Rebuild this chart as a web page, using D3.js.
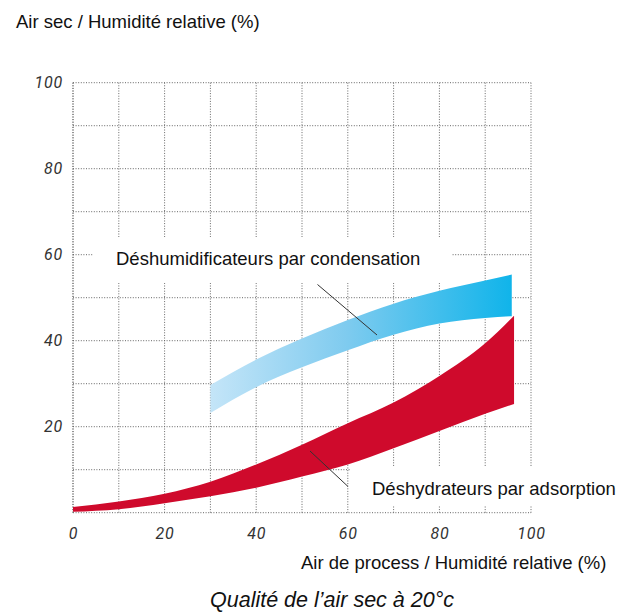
<!DOCTYPE html>
<html>
<head>
<meta charset="utf-8">
<script src="https://cdn.jsdelivr.net/npm/d3@7"></script>
<style>
  html, body { margin: 0; padding: 0; background: #fff; }
  svg { display: block; }
</style>
</head>
<body>
<svg id="chart" width="629" height="612"></svg>
<script>
// ---- data ----
const xTicks = [0, 20, 40, 60, 80, 100];
const yTicks = [20, 40, 60, 80, 100];
const gridValues = [0, 10, 20, 30, 40, 50, 60, 70, 80, 90, 100];

const condX     = [30,   40,   50,   60,   70,   80,   90,   95.8];
const condUpper = [29.7, 35.6, 40.5, 44.8, 48.6, 51.6, 54.0, 55.4];
const condLower = [23.2, 29.2, 33.8, 37.8, 41.4, 44.0, 45.3, 45.7];

const adsX     = [0,   10,  20,  30,  40,   50,   60,   70,   80,   90,   96.3];
const adsUpper = [1.3, 2.6, 4.4, 7.2, 11.2, 15.8, 20.8, 25.6, 31.8, 39.4, 45.8];
const adsLower = [0.2, 0.8, 2.2, 3.8, 5.8,  8.4,  11.2, 15.0, 19.0, 23.0, 25.3];

const yTitle = "Air sec / Humidité relative (%)";
const xTitle = "Air de process / Humidité relative (%)";
const chartTitle = "Qualité de l’air sec à 20°c";
const condLabel = "Déshumidificateurs par condensation";
const adsLabel = "Déshydrateurs par adsorption";

// ---- layout ----
const svg = d3.select("#chart");
const x = d3.scaleLinear().domain([0, 100]).range([73, 531]);
const y = d3.scaleLinear().domain([0, 100]).range([512.7, 82.7]);
const textFont = "'Liberation Sans', Arial, sans-serif";
const tickFont = "Roboto, 'DejaVu Sans', sans-serif";
const gridColor = "#666";
const gridDash = "1,1.6";

// gradient
const defs = svg.append("defs");
const grad = defs.append("linearGradient").attr("id", "blueGrad")
  .attr("gradientUnits", "userSpaceOnUse")
  .attr("x1", x(30)).attr("x2", x(95.8)).attr("y1", 0).attr("y2", 0);
grad.append("stop").attr("offset", "0%").attr("stop-color", "#c4e5f8");
grad.append("stop").attr("offset", "45%").attr("stop-color", "#7fcbef");
grad.append("stop").attr("offset", "100%").attr("stop-color", "#10b4ea");

// grid
const grid = svg.append("g").attr("stroke", gridColor).attr("stroke-width", 1)
  .attr("stroke-dasharray", gridDash).attr("fill", "none");
grid.selectAll("line.v").data(gridValues).join("line").attr("class", "v")
  .attr("x1", d => x(d)).attr("x2", d => x(d)).attr("y1", y(0)).attr("y2", y(100));
grid.selectAll("line.h").data(gridValues).join("line").attr("class", "h")
  .attr("x1", x(0)).attr("x2", x(100)).attr("y1", d => y(d)).attr("y2", d => y(d));

// white label backgrounds (break the grid)
svg.append("rect").attr("x", 93).attr("y", 237).attr("width", 359).attr("height", 46).attr("fill", "#fff");
svg.append("rect").attr("x", 350).attr("y", 466).attr("width", 279).attr("height", 40).attr("fill", "#fff");
// keep left border continuous
svg.append("line").attr("x1", x(0)).attr("x2", x(0)).attr("y1", y(0)).attr("y2", y(100))
  .attr("stroke", gridColor).attr("stroke-dasharray", gridDash);

// bands
const condData = condX.map((d, i) => ({x: d, lo: condLower[i], hi: condUpper[i]}));
const adsData = adsX.map((d, i) => ({x: d, lo: adsLower[i], hi: adsUpper[i]}));
const area = d3.area().x(d => x(d.x)).y0(d => y(d.lo)).y1(d => y(d.hi)).curve(d3.curveMonotoneX);

svg.append("path").datum(condData).attr("d", area).attr("fill", "url(#blueGrad)");
svg.append("path").datum(adsData).attr("d", area).attr("fill", "#cf0a2c");

// leader lines
svg.append("line").attr("x1", 317.5).attr("y1", 284.5).attr("x2", 377).attr("y2", 335)
  .attr("stroke", "#333").attr("stroke-width", 1);
svg.append("line").attr("x1", 310).attr("y1", 451).attr("x2", 348).attr("y2", 486.5)
  .attr("stroke", "#333").attr("stroke-width", 1);

// axes tick labels
const yAxis = d3.axisLeft(y).tickValues(yTicks).tickSize(0).tickPadding(10);
const xAxis = d3.axisBottom(x).tickValues(xTicks).tickSize(0).tickPadding(15);
const gy = svg.append("g").attr("transform", `translate(${x(0)},0)`).call(yAxis);
const gx = svg.append("g").attr("transform", `translate(0,${y(0)})`).call(xAxis);
[gy, gx].forEach(g => {
  g.select(".domain").remove();
  g.selectAll("text").attr("font-family", tickFont).attr("font-style", "italic")
    .attr("font-weight", 400).attr("font-size", 16).attr("letter-spacing", 0.8)
    .attr("fill", "#333");
});

// texts
svg.append("text").attr("x", 16).attr("y", 27.7).text(yTitle)
  .attr("font-family", textFont).attr("font-size", 18.5).attr("fill", "#111");
svg.append("text").attr("x", 301).attr("y", 569).text(xTitle)
  .attr("font-family", textFont).attr("font-size", 18.5).attr("fill", "#111");
svg.append("text").attr("x", 116).attr("y", 265).text(condLabel)
  .attr("font-family", textFont).attr("font-size", 18.5).attr("fill", "#111");
svg.append("text").attr("x", 372).attr("y", 495).text(adsLabel)
  .attr("font-family", textFont).attr("font-size", 18.5).attr("fill", "#111");
svg.append("text").attr("x", 210).attr("y", 607).text(chartTitle)
  .attr("font-family", textFont).attr("font-style", "italic").attr("font-size", 21.5).attr("fill", "#111");
</script>
</body>
</html>
